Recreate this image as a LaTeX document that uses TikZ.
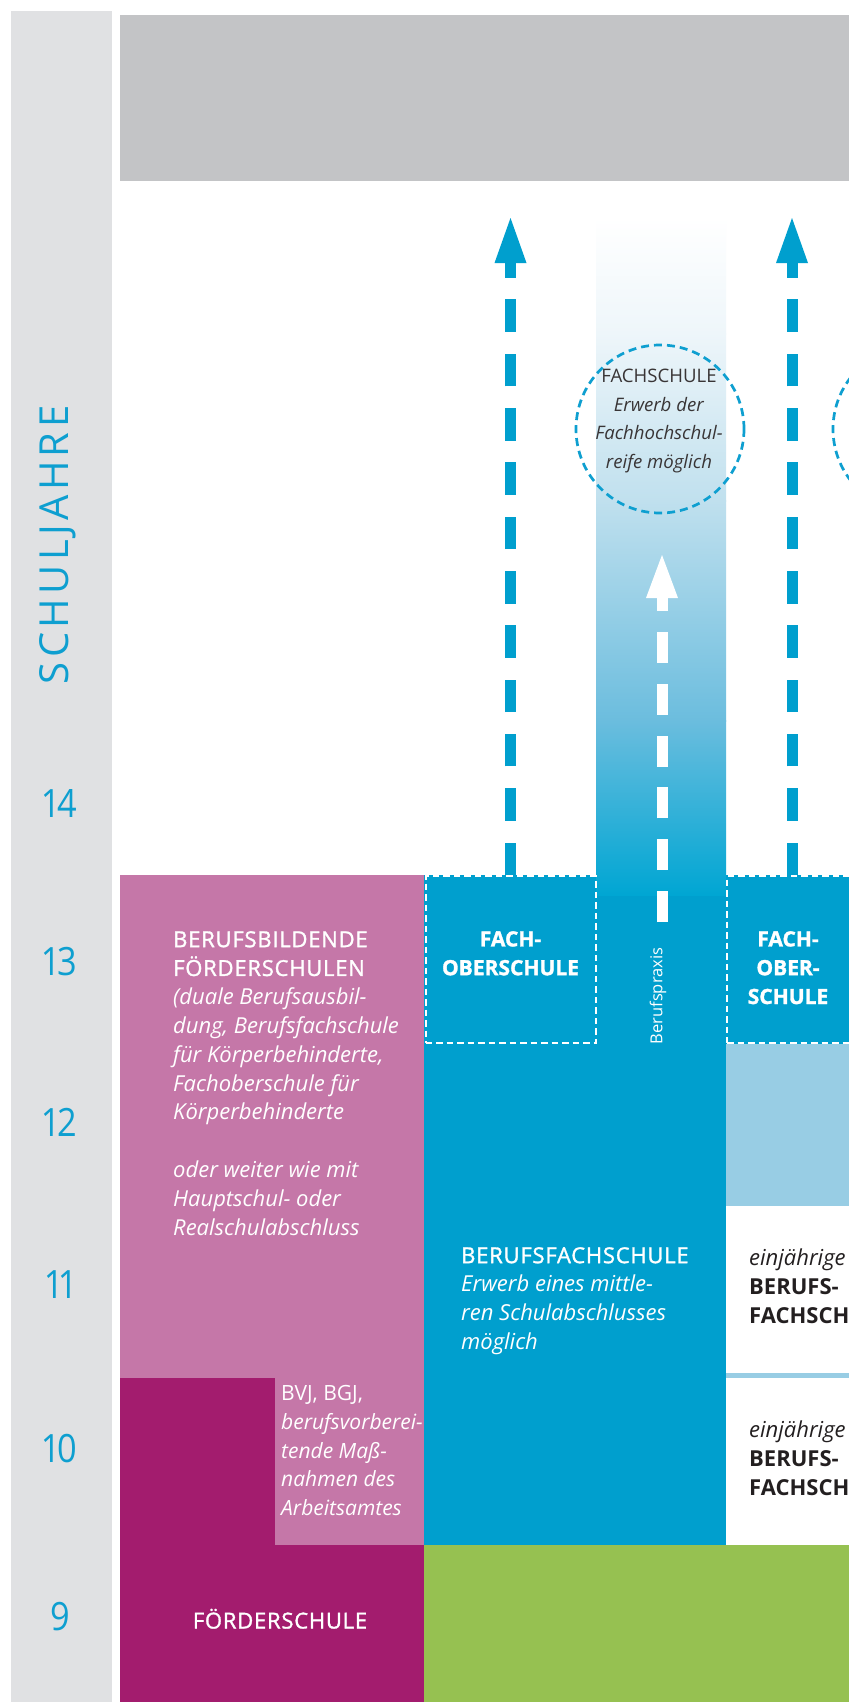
\documentclass[tikz,border=0pt]{standalone}
\usepackage{fontspec}
\setmainfont{Open Sans}
\newfontfamily\ziffern[Numbers=Proportional,FakeStretch=0.88]{Open Sans}
\newfontfamily\halbfett[FakeBold=1.4,LetterSpace=3.5]{Open Sans}
\newfontfamily\negrita[FakeBold=1.5]{Open Sans}
\usetikzlibrary{arrows.meta}

\definecolor{grisclaro}{HTML}{E0E1E3}
\definecolor{grisbanda}{HTML}{C3C4C6}
\definecolor{rosa}{HTML}{C577A8}
\definecolor{morado}{HTML}{A31C6E}
\definecolor{azul}{HTML}{009FCE}
\definecolor{azulclaro}{HTML}{98CDE4}
\definecolor{verde}{HTML}{96C151}
\definecolor{cian}{HTML}{0E9FD0}
\definecolor{oscuro}{HTML}{231F20}
\definecolor{celesteA}{HTML}{EEF6FA}
\definecolor{celesteB}{HTML}{C0E0EE}
\definecolor{celesteC}{HTML}{6BBDDE}
\definecolor{celesteD}{HTML}{00A6D3}

\tikzset{
  texto/.style={inner sep=0pt, anchor=north west, align=left,
    font=\fontsize{22bp}{28.8bp}\selectfont},
  textofos/.style={inner sep=0pt, anchor=north, align=center, text=white,
    font=\negrita\fontsize{21bp}{28.8bp}\selectfont\bfseries},
  fosbox/.style={draw=white, line width=2bp, dash pattern=on 6.5bp off 4bp,
    minimum height=167bp, inner sep=0pt},
  circulo/.style={circle, draw=cian, line width=2.7bp, dash pattern=on 8bp off 5bp,
    minimum size=168bp, inner sep=0pt},
  anio/.style={text=cian, font=\ziffern\fontsize{39bp}{39bp}\selectfont},
  flechaazul/.style={draw=azul, line width=11bp, dash pattern=on 32.5bp off 21.8bp,
    -{Triangle[length=45bp, width=32bp, line width=0pt]}},
  flechablanca/.style={draw=white, line width=11bp, dash pattern=on 31bp off 20.8bp,
    -{Triangle[length=43bp, width=32bp, line width=0pt]}}
}

\begin{document}
\begin{tikzpicture}[x=1bp, y=-1bp]
\useasboundingbox (0,0) rectangle (849,1702);
\clip (0,0) rectangle (849,1702);

% Fondo y columna de los anios
\fill[white] (0,0) rectangle (849,1702);
\fill[grisclaro] (11,11) rectangle (112,1702);
% Banda gris de arriba
\fill[grisbanda] (120,15) rectangle (849,181);

% Bloques de colores
\fill[rosa] (120,875) rectangle (424,1545);
\fill[morado] (120,1378) rectangle (275,1545);
\fill[morado] (120,1545) rectangle (424,1702);
\fill[verde] (424,1545) rectangle (849,1702);
\fill[azul] (424,875) rectangle (596,1545);
\fill[azul] (596,894) rectangle (726,1545);
\fill[azul] (726,875) rectangle (849,1044);
\fill[azulclaro] (726,1044) rectangle (849,1545);
\fill[white] (726,1206) rectangle (849,1373);
\fill[white] (726,1378) rectangle (849,1545);

% Degradado de la columna Berufspraxis
\shade[top color=white, bottom color=celesteA] (596,217) rectangle (726,334);
\shade[top color=celesteA, bottom color=celesteB] (596,333) rectangle (726,501);
\shade[top color=celesteB, bottom color=celesteC] (596,500) rectangle (726,721);
\shade[top color=celesteC, bottom color=celesteD] (596,720) rectangle (726,895);

% Cajas punteadas de la Fachoberschule
\node[fosbox, minimum width=170bp] (fos1) at (510.5,959.5) {};
\node[fosbox, minimum width=130bp] (fos2) at (792,959.5) {};

% Flechas hacia arriba
\coordinate (punta1) at (510.5,218);
\coordinate (punta2) at (792,218);
\draw[flechaazul] (fos1.north) -- (punta1);
\draw[flechaazul] (fos2.north) -- (punta2);

\coordinate (praxisbase) at (662,922);
\coordinate (praxispunta) at (662,555);
\draw[flechablanca] (praxisbase) -- (praxispunta);

% Circulos de la Fachschule
\node[circulo] (fachschule) at (660,429) {};
\node[circulo] (fachschule2) at (917,429) {};
\node[inner sep=0pt, align=center, text=oscuro!90,
  font=\fontsize{18.6bp}{28.8bp}\selectfont] (fstexto) at (659,421)
  {FACHSCHULE\\\textit{Erwerb der}\\\textit{Fachhochschul-}\\\textit{reife möglich}};

% Anios escolares
\foreach \an/\pos in {14/803, 13/962, 12/1122, 11/1285, 10/1449, 9/1617}
  \node[anio] (anio\an) at (60,\pos) {\an};
\node[rotate=90, text=cian, inner sep=0pt,
  font=\fontsize{40bp}{40bp}\selectfont\addfontfeatures{LetterSpace=11}]
  (schuljahre) at (58,545) {SCHULJAHRE};

% Textos de los bloques
\node[texto, text=white] (bbfs) at (173,931)
  {\halbfett BERUFSBILDENDE\\\halbfett FÖRDERSCHULEN\\\textit{(duale Berufsausbil-}\\
   \textit{dung, Berufsfachschule}\\\textit{für Körperbehinderte,}\\
   \textit{Fachoberschule für}\\\textit{Körperbehinderte}\\[28.8bp]
   \textit{oder weiter wie mit}\\\textit{Hauptschul- oder}\\
   \textit{Realschulabschluss}};
\node[texto, text=white, font=\fontsize{21bp}{28.8bp}\selectfont] (bvj) at (281,1385)
  {BVJ, BGJ,\\\textit{berufsvorberei-}\\\textit{tende Maß-}\\
   \textit{nahmen des}\\\textit{Arbeitsamtes}};
\node[texto, text=white] (bfs) at (461,1247)
  {\halbfett BERUFSFACHSCHULE\\\textit{Erwerb eines mittle-}\\
   \textit{ren Schulabschlusses}\\\textit{möglich}};
\node[inner sep=0pt, anchor=base, text=white,
  font=\halbfett\fontsize{22bp}{28.8bp}\selectfont] (foerderschule) at (280,1628.5)
  {FÖRDERSCHULE};

\node[textofos] (fos1texto) at ([yshift=-56bp]fos1.north) {FACH-\\OBERSCHULE};
\node[textofos] (fos2texto) at ([xshift=-4bp, yshift=-56bp]fos2.north)
  {FACH-\\OBER-\\SCHULE};
\node[rotate=90, text=white, inner sep=0pt,
  font=\fontsize{16.5bp}{16.5bp}\selectfont] (berufspraxis) at (658,996)
  {Berufspraxis};

\node[texto, text=oscuro, font=\fontsize{22bp}{28.8bp}\selectfont] (bfs1j) at (749,1249)
  {\textit{einjährige}\\\textbf{BERUFS-}\\\textbf{FACHSCHULE}};
\node[texto, text=oscuro, font=\fontsize{22bp}{28.8bp}\selectfont] (bfs2j) at (749,1421)
  {\textit{einjährige}\\\textbf{BERUFS-}\\\textbf{FACHSCHULE}};
\end{tikzpicture}
\end{document}
